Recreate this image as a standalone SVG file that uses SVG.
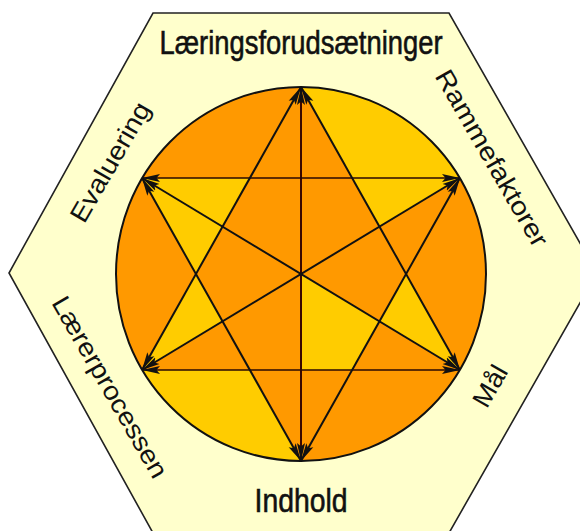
<svg xmlns="http://www.w3.org/2000/svg" width="580" height="531" viewBox="0 0 580 531">
<defs>
<style>
.lbl{font-family:"Liberation Sans",Arial,sans-serif;fill:#111;}
.hv{stroke:#111;stroke-width:0.6;}
.ln{stroke:#111;stroke-width:2;fill:none;marker-start:url(#ah);marker-end:url(#ah);}
.lnh{stroke:#2a0800;stroke-width:1.5;fill:none;marker-start:url(#ah);marker-end:url(#ah);}
.y{fill:#FFCC00;}
</style>
<marker id="ah" viewBox="0 0 18 9" refX="18" refY="4.5" markerWidth="18" markerHeight="9" markerUnits="userSpaceOnUse" orient="auto-start-reverse">
<path d="M0,0.5 L18,4.5 L0,8.5 L3.5,4.5 Z" fill="#111"/>
</marker>
</defs>
<rect width="580" height="531" fill="#ffffff"/>
<g id="hexagon">
<polygon points="153,13 449,13 597,273 449,533 153,533 9,273" fill="#FFFFCC" stroke="#222" stroke-width="1.6"/>
</g>
<g id="circle">
<ellipse cx="301" cy="274" rx="185" ry="187" fill="#FF9900"/>
<path class="y" d="M301,87 A185,187 0 0 1 460,178 L379.4,226.6 Z"/>
<polygon class="y" points="142,178 249.9,178 195.9,274"/>
<polygon class="y" points="142,370 195.9,274 222.6,321.4"/>
<path class="y" d="M142,370 A185,187 0 0 0 301,461 L249.9,370 Z"/>
<polygon class="y" points="301,274 301,370 352.1,370 379.4,321.4"/>
<polygon class="y" points="460,370 406.1,274 379.4,321.4"/>
</g>
<g id="connectors">
<line class="lnh" x1="301" y1="87" x2="301" y2="461" style="stroke:#3a0800;stroke-width:2"/>
<line class="lnh" x1="142" y1="178" x2="460" y2="178"/>
<line class="lnh" x1="142" y1="370" x2="460" y2="370"/>
<line class="ln" x1="142" y1="178" x2="460" y2="370"/>
<line class="ln" x1="460" y1="178" x2="142" y2="370"/>
<line class="ln" x1="301" y1="87" x2="142" y2="370"/>
<line class="ln" x1="301" y1="87" x2="460" y2="370"/>
<line class="ln" x1="301" y1="461" x2="142" y2="178"/>
<line class="ln" x1="301" y1="461" x2="460" y2="178"/>
</g>
<ellipse cx="301" cy="274" rx="185" ry="187" fill="none" stroke="#111" stroke-width="2"/>
<g id="label-laeringsforudsaetninger">
<text class="lbl hv" x="301" y="54" font-size="33" text-anchor="middle" textLength="283" lengthAdjust="spacingAndGlyphs">Læringsforudsætninger</text>
</g>
<g id="label-indhold">
<text class="lbl hv" x="301" y="512" font-size="33" text-anchor="middle" textLength="93" lengthAdjust="spacingAndGlyphs">Indhold</text>
</g>
<g id="label-evaluering">
<text class="lbl" transform="translate(110,162) rotate(-60)" x="0" y="9" font-size="26" text-anchor="middle" textLength="134" lengthAdjust="spacingAndGlyphs">Evaluering</text>
</g>
<g id="label-rammefaktorer">
<text class="lbl" transform="translate(492,158) rotate(60)" x="0" y="9" font-size="26" text-anchor="middle" textLength="200" lengthAdjust="spacingAndGlyphs">Rammefaktorer</text>
</g>
<g id="label-laererprocessen">
<text class="lbl" transform="translate(110,387) rotate(60)" x="0" y="9" font-size="26" text-anchor="middle" textLength="205" lengthAdjust="spacingAndGlyphs">Lærerprocessen</text>
</g>
<g id="label-maal">
<text class="lbl" transform="translate(490,386) rotate(-60)" x="0" y="9" font-size="26" text-anchor="middle" textLength="44" lengthAdjust="spacingAndGlyphs">Mål</text>
</g>
</svg>
